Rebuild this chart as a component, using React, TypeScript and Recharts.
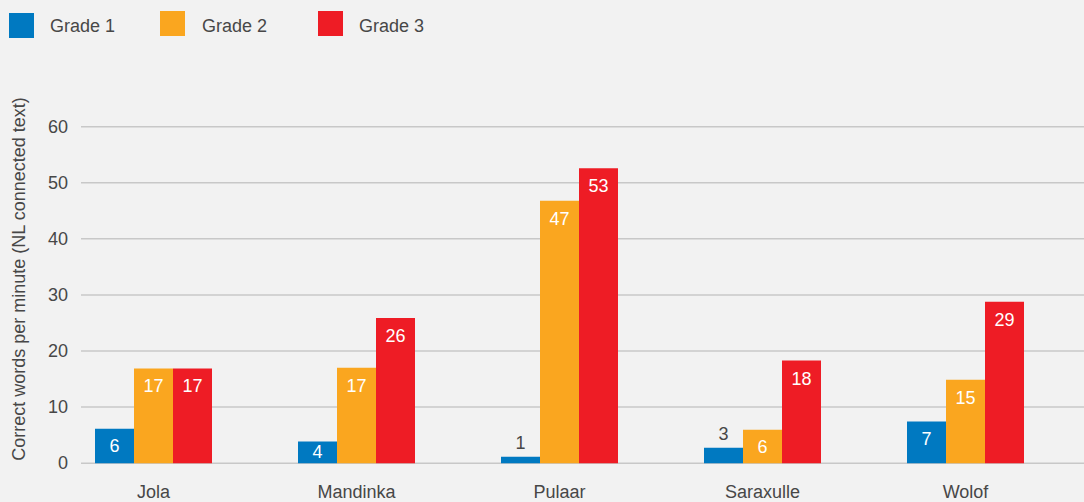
import { BarChart, Bar, XAxis, YAxis, CartesianGrid, LabelList } from 'recharts';

const languages = ['Jola', 'Mandinka', 'Pulaar', 'Saraxulle', 'Wolof'];
const grade1 = [6.15, 3.85, 1.15, 2.75, 7.45];
const grade2 = [16.9, 17.0, 46.8, 5.95, 14.9];
const grade3 = [16.9, 25.9, 52.6, 18.3, 28.8];
const yTicks = [0, 10, 20, 30, 40, 50, 60];

const series = [
  { key: 'grade1', name: 'Grade 1', color: '#0079c1' },
  { key: 'grade2', name: 'Grade 2', color: '#faa61f' },
  { key: 'grade3', name: 'Grade 3', color: '#ee1c25' },
];

const data = languages.map((lang, i) => ({
  lang,
  grade1: grade1[i],
  grade2: grade2[i],
  grade3: grade3[i],
}));

const FONT = '"Liberation Sans", Arial, Helvetica, sans-serif';
const TEXT = '#474747';

function BarValue(props: any) {
  const { x, y, width, height, value } = props;
  const cx = x + width / 2;
  const label = Math.round(value);
  if (height < 20) {
    return (
      <text x={cx} y={y - 14} textAnchor="middle" dominantBaseline="central"
        fill={TEXT} fontSize={18} fontFamily={FONT}>
        {label}
      </text>
    );
  }
  return (
    <text x={cx} y={y + Math.min(18, height / 2)} textAnchor="middle" dominantBaseline="central"
      fill="#ffffff" fontSize={18} fontFamily={FONT}>
      {label}
    </text>
  );
}

function XTick(props: any) {
  const { x, y, payload } = props;
  return (
    <text x={x} y={y + 20.5} textAnchor="middle" dominantBaseline="central"
      fill={TEXT} fontSize={18} fontFamily={FONT}>
      {payload.value}
    </text>
  );
}

function YTick(props: any) {
  const { y, payload } = props;
  return (
    <text x={68} y={y} textAnchor="end" dominantBaseline="central"
      fill={TEXT} fontSize={18} fontFamily={FONT}>
      {payload.value}
    </text>
  );
}

function YLabel() {
  return (
    <text x={18.5} y={279} transform="rotate(-90 18.5 279)" textAnchor="middle"
      dominantBaseline="central" fill={TEXT} fontSize={18} fontFamily={FONT}>
      Correct words per minute (NL connected text)
    </text>
  );
}

export default function App() {
  return (
    <div style={{ position: 'absolute', left: 0, top: 0, width: 1084, height: 502, background: '#f2f2f2', overflow: 'hidden' }}>
      <div style={{ position: 'absolute', left: 0, top: 0, fontFamily: FONT, fontSize: 18, color: TEXT }}>
        {series.map((s, i) => (
          <div key={s.key} style={{ position: 'absolute', left: [9, 160, 318][i], top: 12, display: 'flex', alignItems: 'center', whiteSpace: 'nowrap' }}>
            <span style={{ display: 'inline-block', width: 25, height: 25, background: s.color, position: 'relative', top: i === 0 ? 1 : -1 }} />
            <span style={{ marginLeft: [16, 17, 16][i], position: 'relative', top: 2 }}>{s.name}</span>
          </div>
        ))}
      </div>
      <BarChart
        width={1084}
        height={502}
        data={data}
        margin={{ top: 126.7, right: 17, bottom: 0, left: 0 }}
        barCategoryGap={43}
        barGap={0}
      >
        <CartesianGrid x={81} width={1003} vertical={false} stroke="#c8c8c8" strokeWidth={1.5} />
        <XAxis dataKey="lang" axisLine={false} tickLine={false} height={38.8} tick={<XTick />} interval={0} />
        <YAxis domain={[0, 60]} ticks={yTicks} width={52} axisLine={false} tickLine={false} tick={<YTick />} label={<YLabel />} />
        {series.map((s) => (
          <Bar key={s.key} dataKey={s.key} name={s.name} fill={s.color} isAnimationActive={false}>
            <LabelList dataKey={s.key} content={<BarValue />} />
          </Bar>
        ))}
      </BarChart>
    </div>
  );
}
